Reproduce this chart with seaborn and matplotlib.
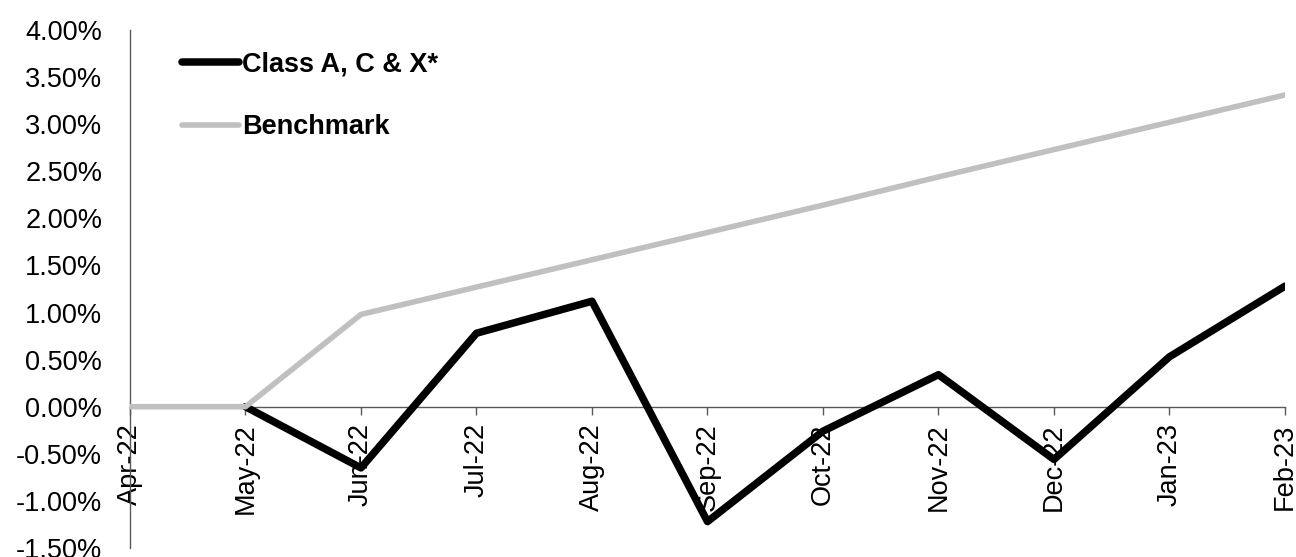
import numpy as np
import pandas as pd
import matplotlib
matplotlib.use("Agg")
import matplotlib.pyplot as plt
import seaborn as sns
from matplotlib.ticker import FuncFormatter, MultipleLocator

months = ["Apr-22", "May-22", "Jun-22", "Jul-22", "Aug-22", "Sep-22",
          "Oct-22", "Nov-22", "Dec-22", "Jan-23", "Feb-23"]
class_acx = [np.nan, 0.00, -0.65, 0.78, 1.12, -1.22, -0.26, 0.34, -0.56, 0.53, 1.28]
benchmark = [0.00, 0.00, 0.98, 1.27, 1.56, 1.85, 2.14, 2.44, 2.73, 3.02, 3.31]
series_names = ["Class A, C & X*", "Benchmark"]

sns.set_style("white")
plt.rcParams["font.family"] = ["Liberation Sans", "DejaVu Sans"]
plt.rcParams["text.color"] = "black"
plt.rcParams["xtick.color"] = "black"
plt.rcParams["ytick.color"] = "black"

fig = plt.figure(figsize=(12.96, 5.57), dpi=100)
ax = fig.add_axes([0.1003, 0.0162, 0.8912, 0.9300])

x = np.arange(len(months))
df = pd.DataFrame({"x": x, "a": class_acx, "b": benchmark})

sns.lineplot(data=df, x="x", y="a", ax=ax, color="black", linewidth=5.4,
             label=series_names[0], zorder=2, solid_capstyle="round")
sns.lineplot(data=df, x="x", y="b", ax=ax, color="#C0C0C0", linewidth=4,
             label=series_names[1], zorder=3, solid_capstyle="round")

ax.set_xlim(0, len(months) - 1)
ax.set_ylim(-1.5, 4.0)
ax.yaxis.set_major_locator(MultipleLocator(0.5))
ax.yaxis.set_major_formatter(FuncFormatter(lambda v, p: f"{v:.2f}%"))
ax.set_xticks(x)
ax.set_xticklabels(months)
ax.set_xlabel("")
ax.set_ylabel("")

for s in ["top", "right"]:
    ax.spines[s].set_visible(False)
ax.spines["bottom"].set_position(("data", 0))
ax.spines["bottom"].set_color("#595959")
ax.spines["bottom"].set_linewidth(1.0)
ax.spines["left"].set_color("#595959")
ax.spines["left"].set_linewidth(1.0)
ax.spines["bottom"].set_zorder(1)

ax.tick_params(axis="x", direction="out", length=6, width=1, color="#595959",
               labelsize=19.5, pad=6, bottom=True, labelrotation=90,
               labelcolor="black")
ax.tick_params(axis="y", length=0, labelsize=19.5, pad=20, labelcolor="black")
for lab in ax.get_xticklabels():
    lab.set_verticalalignment("top")
    lab.set_horizontalalignment("center")
ax.grid(False)

leg = ax.legend(loc="upper left", bbox_to_anchor=(0.024, 1.006), frameon=False,
                prop={"weight": "bold", "size": 19.5}, handlelength=2.1,
                handletextpad=0.12, labelspacing=1.37)
for t in leg.get_texts():
    t.set_color("black")

fig.savefig("out.png", dpi=100)
